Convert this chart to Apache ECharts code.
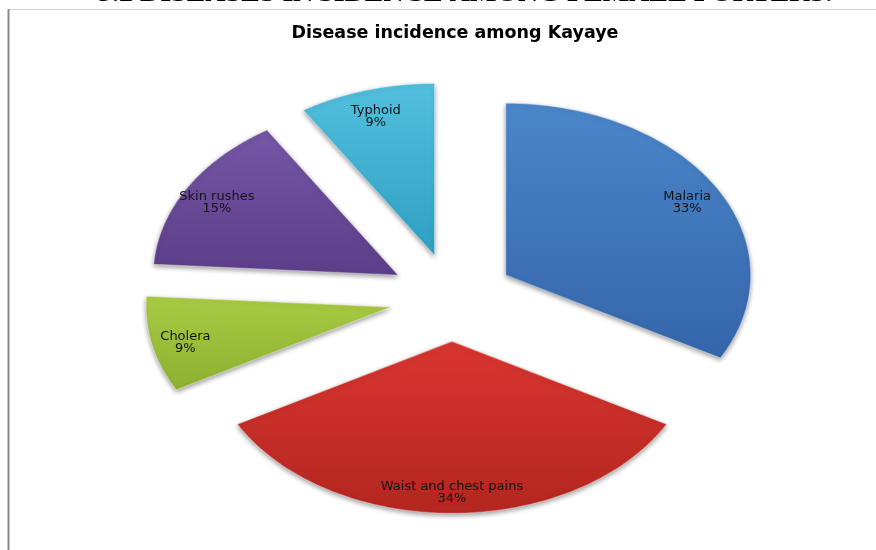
<!DOCTYPE html>
<html>
<head>
<meta charset="utf-8">
<title>Disease incidence among Kayaye</title>
<script src="https://cdn.jsdelivr.net/npm/echarts@6/dist/echarts.min.js"></script>
<style>
  html, body { margin: 0; padding: 0; background: #fff; }
  #grafik { width: 876px; height: 550px; }
</style>
</head>
<body>
<div id="grafik"></div>
<script>
var diseases = ['Malaria', 'Waist and chest pains', 'Cholera', 'Skin rushes', 'Typhoid'];
var percentages = [33, 34, 9, 15, 9];
// light (top) -> dark (bottom) fill of each slice
var sliceColors = [
  ['#4c86ca', '#3465aa'],
  ['#da3530', '#b3261f'],
  ['#a9cc45', '#8cb030'],
  ['#7656a6', '#5c3d88'],
  ['#52c0de', '#2f9fc2']
];

var total = percentages.reduce(function (a, b) { return a + b; }, 0);
var startShares = [];
var acc = 0;
percentages.forEach(function (v) { startShares.push(acc); acc += v; });

var explode = 0.255;      // slices pulled out from the centre (in radius units)
var labelRadius = 0.86;

function renderSlice(params, api) {
  var i = params.dataIndex;
  var a0 = startShares[i] / total * 2 * Math.PI;
  var a1 = (startShares[i] + api.value(0)) / total * 2 * Math.PI;
  var mid = (a0 + a1) / 2;
  var ox = explode * Math.sin(mid);
  var oy = explode * Math.cos(mid);
  var pts = [api.coord([ox, oy])];
  var steps = 72;
  for (var k = 0; k <= steps; k++) {
    var a = a0 + (a1 - a0) * k / steps;
    pts.push(api.coord([ox + Math.sin(a), oy + Math.cos(a)]));
  }
  var lp = api.coord([ox + labelRadius * Math.sin(mid), oy + labelRadius * Math.cos(mid)]);
  var c = sliceColors[i];
  return {
    type: 'group',
    children: [
      {
        type: 'polygon',
        shape: { points: pts },
        style: {
          fill: new echarts.graphic.LinearGradient(0, 0, 0, 1, [
            { offset: 0, color: c[0] },
            { offset: 1, color: c[1] }
          ]),
          stroke: 'rgba(255,255,255,0.35)',
          lineWidth: 1.2,
          shadowBlur: 5,
          shadowColor: 'rgba(0,0,0,0.4)',
          shadowOffsetY: 2
        }
      },
      {
        type: 'text',
        x: lp[0],
        y: lp[1] + 3,
        style: {
          text: diseases[i] + '\n' + api.value(0) + '%',
          align: 'center',
          verticalAlign: 'middle',
          font: '13px "DejaVu Sans"',
          lineHeight: 12,
          fill: '#141414'
        }
      }
    ]
  };
}

var grafik = echarts.init(document.getElementById('grafik'));

var option = {
  animation: false,
  title: {
    text: 'Disease incidence among Kayaye',
    left: 450,
    top: 19,
    textAlign: 'center',
    textStyle: { fontFamily: 'DejaVu Sans', fontSize: 17.5, fontWeight: 'bold', color: '#000' }
  },
  graphic: [
    {
      type: 'text', x: 98, y: -6,
      style: {
        text: '3.2 DISEASES INCIDENCE AMONG FEMALE PORTERS.',
        font: 'bold 28px "Liberation Serif"', fill: '#000',
        align: 'left', verticalAlign: 'middle'
      }
    },
    { type: 'line', shape: { x1: 9, y1: 9.5, x2: 876, y2: 9.5 }, style: { stroke: '#d0d0d0', lineWidth: 1 } },
    { type: 'line', shape: { x1: 8.5, y1: 9, x2: 8.5, y2: 550 }, style: { stroke: '#8a8a8a', lineWidth: 2 } }
  ],
  grid: { left: 207, top: 125.5, width: 490, height: 344 },
  xAxis: { type: 'value', min: -1, max: 1, show: false },
  yAxis: { type: 'value', min: -1, max: 1, show: false },
  series: [
    {
      type: 'custom',
      coordinateSystem: 'cartesian2d',
      renderItem: renderSlice,
      data: percentages.map(function (v, i) { return { name: diseases[i], value: [v] }; })
    }
  ]
};
grafik.setOption(option);
</script>
</body>
</html>
